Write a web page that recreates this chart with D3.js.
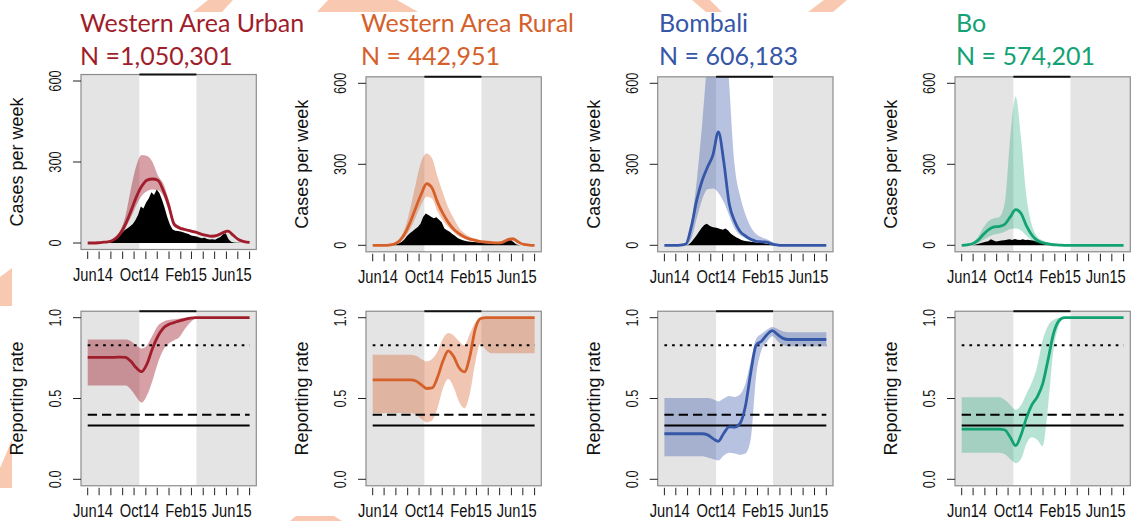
<!DOCTYPE html>
<html>
<head>
<meta charset="utf-8">
<title>Reporting rates by district</title>
<script src="https://d3js.org/d3.v7.min.js"></script>
<style>
  body { margin: 0; background: #fff; }
  text { font-family: "Liberation Sans", Arial, sans-serif; fill: #111; }
  .title { font-family: Lato, "Noto Sans", sans-serif; }
</style>
</head>
<body>
<script>

// districts, populations and colours
var regions   = ["Western Area Urban", "Western Area Rural", "Bombali", "Bo"];
var popLabels = ["N =1,050,301", "N = 442,951", "N = 606,183", "N = 574,201"];
var colors    = ["#a01d2b", "#d5602a", "#3656a8", "#12a273"];
var bandAlpha = [0.42, 0.36, 0.36, 0.3];

// time axis
var startDate = new Date(2014, 5, 1), endDate = new Date(2015, 7, 1);
var windowStart = new Date(2014, 9, 15), windowEnd = new Date(2015, 2, 14);
var tickLabels = ["Jun14", "Oct14", "Feb15", "Jun15"];
var labelDates = [new Date(2014, 5, 15), new Date(2014, 9, 15), new Date(2015, 1, 15), new Date(2015, 5, 15)];
var caseTicks = [0, 300, 600];
var rateTicks = [0, 0.5, 1];
var rateTickLabels = ["0.0", "0.5", "1.0"];

// horizontal reference levels in the reporting-rate panels
var refLevels = [0.83, 0.4, 0.333];
var refDash   = ["2.7,5", "9.3,5", null];

// observed cases per week (weekly, Jun14 .. Aug15)
var obsWAU = [0,0,0,0,0,0,0,0, 1,5,12,20,30,38,48,55, 62,70,85,105,135,128,150,165,
  188,178,198,185,160,130,95,68, 50,45,44,43,40,36,33,28, 26,24,20,18,19,15,13,14,
  12,18,22,32,36,15,5,2, 1,1,0,0,0,0];
var obsWAR = [0,0,0,0,0,0,0,0, 1,4,8,13,22,35,45,52, 60,68,80,105,118,112,106,100,
  104,95,85,62,56,50,42,35, 27,22,19,16,14,13,12,11, 10,9,8,8,7,6,6,6,
  7,10,15,22,20,12,4,1, 0,0,0,0,0,0];
var obsBombali = [0,0,0,0,0,0,0,0, 0,2,10,22,35,50,64,75, 80,72,68,66,64,60,58,62,
  55,44,36,30,25,20,17,15, 14,12,11,10,10,9,7,6, 4,2,1,0,0,0,0,0,
  0,0,0,0,0,0,0,0, 0,0,0,0,0,0];
var obsBo = [0,0,0,0,0, 2,5,8,10,13,15,22, 18,14,16,18,19,21,22, 20,23,21,20,22,20,21,
  19,18,15,12,10,8,6, 4,3,1,0,0,0,0,
  0,0,0,0,0,0,0,0,0,0,0,0,0,0,0,0,0,0,0,0,0,0];

// estimated cases per week with interval (fortnightly, Jun14 .. Aug15)
var estWAU = [0,0,1,3,5,14,34,70,118,170,210,233,237,232,195,140,70,56,50,45,40,33,28,25,28,38,44,28,12,5,2];
var upWAU  = [0,1,2,4,9,20,45,100,200,285,326,322,300,250,220,160,80,63,56,50,45,37,32,28,31,42,49,31,14,6,2];
var lowWAU = [0,0,0,2,3,10,26,55,95,140,175,192,198,196,175,120,60,50,45,41,36,30,25,22,25,34,40,25,10,4,1];

var estWAR = [0,0,0,1,5,17,45,88,140,190,228,212,160,118,85,60,43,31,23,18,14,12,10,9,11,20,24,12,3,1,0];
var upWAR  = [0,0,1,2,8,26,65,140,230,310,340,322,255,195,140,100,65,45,32,25,19,16,13,12,16,27,31,16,5,1,0];
var lowWAR = [0,0,0,0,3,12,32,62,105,150,180,172,125,92,68,48,33,25,18,14,11,9,8,7,9,17,19,9,2,0,0];

var estBombali = [0,0,0,1,5,70,168,240,290,335,420,310,155,90,52,35,22,15,13,12,4,1,0,0,0,0,0,0,0,0,0];
var upBombali  = [0,0,0,2,10,85,240,450,700,900,1000,950,600,300,185,115,68,42,30,22,12,3,1,0,0,0,0,0,0,0,0];
var lowBombali = [0,0,0,0,2,25,100,170,208,210,195,160,110,62,38,26,16,11,9,8,4,1,0,0,0,0,0,0,0,0,0];

var estBo = [0,2,6,18,40,58,68,70,78,105,132,118,72,38,18,10,5,2,1,0,0,0,0,0,0,0,0,0,0,0,0];
var upBo  = [0,3,10,30,65,90,100,105,160,400,550,395,180,75,33,18,10,5,3,1,0,0,0,0,0,0,0,0,0,0,0];
var lowBo = [0,1,3,8,20,32,40,44,50,60,62,55,35,18,8,4,2,1,0,0,0,0,0,0,0,0,0,0,0,0,0];

// reporting rate with interval (fortnightly)
var rateWAU    = [0.755,0.755,0.755,0.755,0.755,0.755,0.756,0.755,0.73,0.69,0.666,0.715,0.81,0.885,0.935,0.958,0.97,0.98,0.99,0.997,1,1,1,1,1,1,1,1,1,1,1];
var rateUpWAU  = [0.865,0.865,0.865,0.865,0.865,0.865,0.865,0.865,0.855,0.83,0.81,0.83,0.89,0.95,0.975,0.985,0.99,0.995,1,1,1,1,1,1,1,1,1,1,1,1,1];
var rateLowWAU = [0.58,0.58,0.58,0.58,0.58,0.58,0.58,0.58,0.555,0.51,0.475,0.52,0.61,0.72,0.8,0.84,0.86,0.88,0.93,0.97,0.995,1,1,1,1,1,1,1,1,1,1];

var rateWAR    = [0.615,0.615,0.615,0.615,0.615,0.615,0.615,0.615,0.608,0.585,0.562,0.565,0.63,0.73,0.795,0.76,0.69,0.665,0.76,0.93,0.995,1,1,1,1,1,1,1,1,1,1];
var rateUpWAR  = [0.77,0.77,0.77,0.77,0.77,0.77,0.77,0.77,0.765,0.745,0.73,0.745,0.79,0.87,0.905,0.89,0.855,0.83,0.9,0.97,1,1,1,1,1,1,1,1,1,1,1];
var rateLowWAR = [0.41,0.41,0.41,0.41,0.41,0.41,0.41,0.41,0.4,0.375,0.352,0.365,0.44,0.56,0.62,0.57,0.48,0.44,0.53,0.72,0.84,0.8,0.78,0.78,0.78,0.78,0.78,0.78,0.78,0.78,0.78];

var rateBombali    = [0.282,0.282,0.282,0.282,0.282,0.282,0.282,0.282,0.275,0.252,0.235,0.285,0.325,0.323,0.345,0.45,0.66,0.83,0.855,0.895,0.92,0.895,0.872,0.865,0.865,0.865,0.865,0.865,0.865,0.865,0.865];
var rateUpBombali  = [0.503,0.503,0.503,0.503,0.503,0.503,0.503,0.503,0.503,0.495,0.482,0.5,0.515,0.51,0.525,0.59,0.73,0.87,0.9,0.925,0.942,0.93,0.915,0.91,0.91,0.91,0.91,0.91,0.91,0.91,0.91];
var rateLowBombali = [0.142,0.142,0.142,0.142,0.142,0.142,0.142,0.142,0.135,0.125,0.117,0.148,0.165,0.16,0.152,0.16,0.25,0.64,0.8,0.85,0.885,0.855,0.83,0.824,0.824,0.824,0.824,0.824,0.824,0.824,0.824];

var rateBo    = [0.31,0.31,0.31,0.31,0.31,0.31,0.31,0.31,0.305,0.26,0.208,0.275,0.38,0.46,0.51,0.59,0.74,0.9,0.98,1,1,1,1,1,1,1,1,1,1,1,1];
var rateUpBo  = [0.507,0.507,0.507,0.507,0.507,0.507,0.507,0.507,0.49,0.46,0.43,0.46,0.53,0.6,0.7,0.86,0.95,0.985,1,1,1,1,1,1,1,1,1,1,1,1,1];
var rateLowBo = [0.165,0.165,0.165,0.165,0.165,0.165,0.165,0.165,0.155,0.125,0.1,0.125,0.22,0.26,0.245,0.205,0.45,0.8,0.95,1,1,1,1,1,1,1,1,1,1,1,1];

// panel placement
var boxLeft  = [81, 366, 657.7, 955];
var boxWidth = 175.3;
var caseTopY = [81, 83.3, 83.3, 83.3];   // pixel row of the 600 tick
var titleX   = [80, 361, 659, 956];

var observed = [obsWAU, obsWAR, obsBombali, obsBo];
var estimate = [[estWAU, lowWAU, upWAU], [estWAR, lowWAR, upWAR],
                [estBombali, lowBombali, upBombali], [estBo, lowBo, upBo]];
var rates    = [[rateWAU, rateLowWAU, rateUpWAU], [rateWAR, rateLowWAR, rateUpWAR],
                [rateBombali, rateLowBombali, rateUpBombali], [rateBo, rateLowBo, rateUpBo]];

// sample dates, evenly spread over the period
function sampleDates(n) {
  var t0 = +startDate, t1 = +endDate;
  return d3.range(n).map(function(i) { return new Date(t0 + (t1 - t0) * i / (n - 1)); });
}
var weekDates = sampleDates(62);
var fortDates = sampleDates(31);
var tickDates = d3.timeMonth.range(startDate, d3.timeDay.offset(endDate, 1));

var svg = d3.select("body").append("svg")
  .attr("width", 1139)
  .attr("height", 521);

// faint background decoration along the edges
var deco = [
  [[208,0],[233,0],[222,12],[193,12]],
  [[328,0],[397,0],[418,12],[317,12]],
  [[692,0],[710,0],[722,12],[706,12]],
  [[824,0],[847,0],[833,12],[808,12]],
  [[0,277],[12,268],[12,306],[0,306]],
  [[0,468],[12,440],[12,488],[0,488]],
  [[296,516],[334,516],[342,521],[290,521]]
];
svg.selectAll("polygon.deco").data(deco).enter().append("polygon")
  .attr("class", "deco")
  .attr("points", function(d) { return d.join(" "); })
  .attr("fill", "#f9c8b0");

function drawPanel(k, row) {
  var L = boxLeft[k];
  var x = d3.scaleTime().domain([startDate, endDate]).range([L + 6.7, L + boxWidth - 6.7]);
  var y, dom;
  if (row === 0) {
    dom = [0, 600];
    y = d3.scaleLinear().domain(dom).range([caseTopY[k] + 162, caseTopY[k]]);
  } else {
    dom = [0, 1];
    y = d3.scaleLinear().domain(dom).range([479.3, 317.7]);
  }
  var pad = (dom[1] - dom[0]) * 0.04;
  var top = y(dom[1] + pad), bottom = y(dom[0] - pad);

  var g = svg.append("g");
  var clipId = "clip" + k + "_" + row;
  g.append("clipPath").attr("id", clipId).append("rect")
    .attr("x", L).attr("y", top).attr("width", boxWidth).attr("height", bottom - top);

  g.append("rect").attr("x", L).attr("y", top).attr("width", boxWidth).attr("height", bottom - top)
    .attr("fill", "#e4e4e4");
  g.append("rect").attr("x", x(windowStart)).attr("y", top)
    .attr("width", x(windowEnd) - x(windowStart)).attr("height", bottom - top)
    .attr("fill", "#fff");

  var plot = g.append("g").attr("clip-path", "url(#" + clipId + ")");
  var series = row === 0 ? estimate[k] : rates[k];
  var pts = fortDates.map(function(t, i) {
    return { t: t, mid: series[0][i], lo: series[1][i], hi: series[2][i] };
  });

  if (row === 0) {
    var obs = weekDates.map(function(t, i) { return { t: t, v: observed[k][i] }; });
    plot.append("path").datum(obs)
      .attr("fill", "#000")
      .attr("d", d3.area().x(function(d) { return x(d.t); })
        .y0(y(0)).y1(function(d) { return y(d.v); }));
  }

  plot.append("path").datum(pts)
    .attr("fill", colors[k]).attr("fill-opacity", bandAlpha[k])
    .attr("d", d3.area().curve(d3.curveMonotoneX)
      .x(function(d) { return x(d.t); })
      .y0(function(d) { return y(d.lo); })
      .y1(function(d) { return y(d.hi); }));

  if (row === 1) {
    refLevels.forEach(function(r, i) {
      plot.append("line")
        .attr("x1", x(startDate)).attr("x2", x(endDate))
        .attr("y1", y(r)).attr("y2", y(r))
        .attr("stroke", "#000").attr("stroke-width", 2)
        .attr("stroke-dasharray", refDash[i]);
    });
  }

  plot.append("path").datum(pts)
    .attr("fill", "none").attr("stroke", colors[k]).attr("stroke-width", 2.8)
    .attr("stroke-linejoin", "round")
    .attr("d", d3.line().curve(d3.curveMonotoneX)
      .x(function(d) { return x(d.t); })
      .y(function(d) { return y(d.mid); }));

  // frame and the dark bar over the white window
  g.append("rect").attr("x", L).attr("y", top).attr("width", boxWidth).attr("height", bottom - top)
    .attr("fill", "none").attr("stroke", "#8c8c8c").attr("stroke-width", 1.2);
  g.append("line").attr("x1", x(windowStart)).attr("x2", x(windowEnd))
    .attr("y1", top).attr("y2", top).attr("stroke", "#111").attr("stroke-width", 2);

  // x axis: monthly ticks, labels every four months
  g.selectAll("line.xt").data(tickDates).enter().append("line")
    .attr("x1", function(d) { return x(d); }).attr("x2", function(d) { return x(d); })
    .attr("y1", bottom + 2).attr("y2", bottom + 9.5)
    .attr("stroke", "#222").attr("stroke-width", 1);
  g.selectAll("text.xl").data(labelDates).enter().append("text")
    .attr("transform", function(d) { return "translate(" + x(d) + "," + (bottom + 31.5) + ") scale(0.84,1)"; })
    .attr("text-anchor", "middle").style("font-size", "17.5px")
    .text(function(d, i) { return tickLabels[i]; });

  // y axis
  var yt = row === 0 ? caseTicks : rateTicks;
  g.selectAll("line.yt").data(yt).enter().append("line")
    .attr("x1", L - 8).attr("x2", L)
    .attr("y1", function(d) { return y(d); }).attr("y2", function(d) { return y(d); })
    .attr("stroke", "#222").attr("stroke-width", 1);
  g.selectAll("text.yl").data(yt).enter().append("text")
    .attr("transform", function(d) { return "translate(" + (L - 20) + "," + y(d) + ") rotate(-90) scale(0.8,1)"; })
    .attr("text-anchor", "middle").style("font-size", "16px")
    .text(function(d, i) { return row === 0 ? String(d) : rateTickLabels[i]; });
  g.append("text")
    .attr("transform", "translate(" + (L - 58) + "," + ((top + bottom) / 2) + ") rotate(-90)")
    .attr("text-anchor", "middle").style("font-size", "18px")
    .text(row === 0 ? "Cases per week" : "Reporting rate");
}

regions.forEach(function(name, k) {
  svg.append("text").attr("class", "title")
    .attr("x", titleX[k]).attr("y", 32)
    .style("font-size", "25px").style("fill", colors[k])
    .text(name);
  svg.append("text").attr("class", "title")
    .attr("x", titleX[k]).attr("y", 64.5)
    .style("font-size", "25px").style("fill", colors[k])
    .text(popLabels[k]);
  drawPanel(k, 0);
  drawPanel(k, 1);
});

</script>
</body>
</html>
